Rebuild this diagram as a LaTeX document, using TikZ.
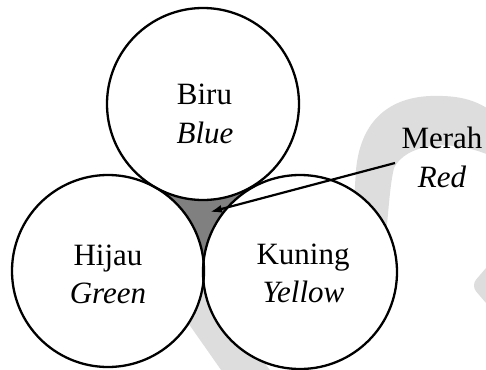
\documentclass[tikz,border=0pt]{standalone}
\usepackage{fontspec}
\setmainfont{Liberation Serif}
\usetikzlibrary{arrows.meta}
\definecolor{wm}{RGB}{221,221,221}
\begin{document}
\begin{tikzpicture}[x=1pt,y=-1pt,
  ring/.style={circle,fill=white,draw=none,inner sep=0pt},
  ringline/.style={draw=black,line width=2.3pt},
  lbl/.style={anchor=base,inner sep=0pt,font=\fontsize{31}{36}\selectfont},
  ilbl/.style={lbl,font=\fontsize{31}{36}\selectfont\itshape},
  pointer/.style={draw=black,line width=2.2pt,-{Latex[length=12pt,width=8pt]}},
  shade/.style={fill=black!50}]
\useasboundingbox (0,0) rectangle (486,369);
% centres
\coordinate (cb) at (203,104);
\coordinate (ch) at (108,271);
\coordinate (ck) at (300,272);
% watermark
\fill[wm] (500,118) .. controls (480,100) and (460,95) .. (430,96)
  .. controls (385,98) and (360,125) .. (356,170) -- (354,200)
  .. controls (350,240) and (250,265) .. (165,290) -- (240,397) -- (290,397)
  -- (223,307) .. controls (320,270) and (384,260) .. (386,235)
  .. controls (389,205) and (390,185) .. (394,168)
  .. controls (405,145) and (450,135) .. (500,160) -- cycle;
\fill[wm,rounded corners=3pt] (492,261) -- (474,282) -- (474,289) -- (492,310) -- cycle;
% shaded centre
\fill[shade] (cb) -- (ch) -- (ck) -- cycle;
% circles
\node[ring,minimum size=192pt] (biru) at (cb) {};
\node[ring,minimum size=192pt] (hijau) at (ch) {};
\node[ring,minimum size=194pt] (kuning) at (ck) {};
\draw[ringline] (biru.center) circle[radius=96pt];
\draw[ringline] (hijau.center) circle[radius=96pt];
\draw[ringline] (kuning.center) circle[radius=97pt];
% labels
\node[lbl] (tbiru) at (204.5,104) {Biru};
\node[ilbl] (tblue) at (205,143) {Blue};
\node[lbl] (thijau) at (108,265) {Hijau};
\node[ilbl] (tgreen) at (108,303) {Green};
\node[lbl] (tkuning) at (303,264) {Kuning};
\node[ilbl] (tyellow) at (303.5,302) {Yellow};
\node[lbl] (tmerah) at (442,148) {Merah};
\node[ilbl] (tred) at (442,187) {Red};
% pointer
\coordinate (mstart) at (395,163);
\coordinate (mtip) at (210,212);
\draw[pointer] (mstart) -- (mtip);
\end{tikzpicture}
\end{document}
